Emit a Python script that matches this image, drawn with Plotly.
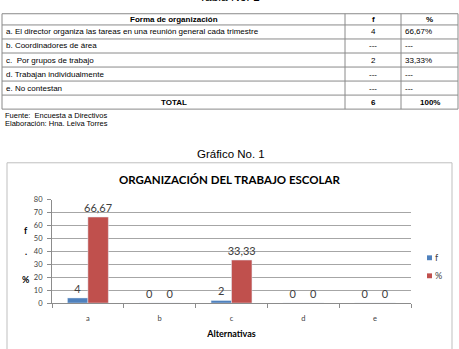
import plotly.graph_objects as go

W, H = 459, 349

# ---- data ----
table_header = ["Forma de organización", "f", "%"]
table_col_forma = [
    "a. El director organiza las tareas en una reunión general cada trimestre",
    "b. Coordinadores de área",
    "c.  Por grupos de trabajo",
    "d. Trabajan individualmente",
    "e. No contestan",
]
table_col_f = ["4", "---", "2", "---", "---"]
table_col_pct = ["66,67%", "---", "33,33%", "---", "---"]
table_total = ["TOTAL", "6", "100%"]

categories = ["a", "b", "c", "d", "e"]
f_values = [4, 0, 2, 0, 0]
pct_values = [66.67, 0, 33.33, 0, 0]
y_ticks = [0, 10, 20, 30, 40, 50, 60, 70, 80]
series_names = ["f", "%"]
series_colors = ["#4F81BD", "#C0504D"]


def px(x):
    return x / W


def py(y):
    return 1 - y / H


def fmt(v):
    return ("%g" % v).replace(".", ",")


fig = go.Figure()

# ---- bars ----
LFONT = dict(family="Lato, Carlito, sans-serif", size=11, color="#404040")
for name, color, vals in zip(series_names, series_colors, [f_values, pct_values]):
    fig.add_trace(go.Bar(
        name=name, x=categories, y=vals, marker=dict(color=color),
        text=[fmt(v) for v in vals], textposition="outside", textfont=LFONT,
        constraintext="none", cliponaxis=False, showlegend=False,
    ))

TICKF = dict(family="Lato, sans-serif", size=7.5, color="#404040")
fig.update_layout(
    width=W, height=H,
    margin=dict(l=0, r=0, t=0, b=0),
    paper_bgcolor="white", plot_bgcolor="white",
    barmode="group", bargap=0.43, bargroupgap=0,
    showlegend=False,
    xaxis=dict(
        domain=[px(52), px(411)], anchor="y",
        showline=True, linecolor="#8c8c8c", linewidth=1,
        ticks="outside", tickson="boundaries", ticklen=4, tickcolor="#8c8c8c",
        tickfont=TICKF, ticklabelstandoff=8,
        showgrid=False,
        title=dict(text="<b>Alternativas</b>", standoff=8,
                   font=dict(family="Lato, sans-serif", size=9, color="#000")),
    ),
    yaxis=dict(
        domain=[py(307), py(201)], range=[0, 80], tickvals=y_ticks,
        showline=True, linecolor="#8c8c8c", linewidth=1,
        ticks="outside", ticklen=4, tickcolor="#8c8c8c",
        tickfont=TICKF, ticklabelstandoff=3,
        showgrid=True, gridcolor="#a6a6a6", gridwidth=1, zeroline=False,
    ),
)

shapes = []
annotations = []

# ---- table (grid + text built from the lists) ----
T_LEFT, T_RIGHT = 2, 458
COL_X = [2, 345, 401, 458]
T_TOP, HDR_H, ROW_H = 10, 11.5, 14.4
n_body = len(table_col_forma)
row_edges = [T_TOP, T_TOP + HDR_H] + [T_TOP + HDR_H + ROW_H * (i + 1) for i in range(n_body + 1)]
LC = "#8a8a8a"
for yv in row_edges:
    shapes.append(dict(type="line", xref="paper", yref="paper",
                       x0=px(T_LEFT), x1=px(T_RIGHT), y0=py(yv), y1=py(yv),
                       line=dict(color=LC, width=1)))
for xv in COL_X:
    shapes.append(dict(type="line", xref="paper", yref="paper",
                       x0=px(xv), x1=px(xv), y0=py(row_edges[0]), y1=py(row_edges[-1]),
                       line=dict(color=LC, width=1)))

TF = dict(family="Liberation Sans, Arial", size=8, color="#000")


def cell(text, x, y, anchor):
    annotations.append(dict(text=text, x=px(x), y=py(y), xref="paper", yref="paper",
                            xanchor=anchor, yanchor="middle", showarrow=False, font=TF))


hy = (row_edges[0] + row_edges[1]) / 2
cell("<b>" + table_header[0] + "</b>", (COL_X[0] + COL_X[1]) / 2, hy, "center")
cell("<b>" + table_header[1] + "</b>", (COL_X[1] + COL_X[2]) / 2, hy, "center")
cell("<b>" + table_header[2] + "</b>", (COL_X[2] + COL_X[3]) / 2, hy, "center")
for i in range(n_body):
    ry = (row_edges[i + 1] + row_edges[i + 2]) / 2
    cell(table_col_forma[i], COL_X[0] + 2, ry, "left")
    cell(table_col_f[i], (COL_X[1] + COL_X[2]) / 2, ry, "center")
    cell(table_col_pct[i], COL_X[2] + 2, ry, "left")
ty = (row_edges[-2] + row_edges[-1]) / 2
for j, v in enumerate(table_total):
    cell("<b>" + v + "</b>", (COL_X[j] + COL_X[j + 1]) / 2, ty, "center")

# ---- chart box ----
shapes.append(dict(type="rect", xref="paper", yref="paper",
                   x0=px(7), x1=px(452), y0=py(360), y1=py(163),
                   line=dict(color="#bfbfbf", width=1), layer="below"))

# ---- manual legend ----
for k, (name, color) in enumerate(zip(series_names, series_colors)):
    cy = 260.5 + k * 18.5
    shapes.append(dict(type="rect", xref="paper", yref="paper",
                       x0=px(427), x1=px(432), y0=py(cy + 2.5), y1=py(cy - 2.5),
                       fillcolor=color, line=dict(width=0)))
    annotations.append(dict(text=name, x=px(433), y=py(cy), xref="paper", yref="paper",
                            xanchor="left", yanchor="middle", showarrow=False,
                            font=dict(family="Lato, sans-serif", size=9, color="#404040")))

annotations += [
    dict(text="Tabla No. 1", x=px(230), y=py(2.5), xref="paper", yref="paper",
         xanchor="center", yanchor="bottom", showarrow=False,
         font=dict(family="Liberation Sans, Arial", size=12, color="#000")),
    dict(text="Fuente:  Encuesta a Directivos", x=px(3), y=py(114.5), xref="paper",
         yref="paper", xanchor="left", yanchor="middle", showarrow=False,
         font=dict(family="Liberation Sans, Arial", size=7.5, color="#000")),
    dict(text="Elaboración: Hna. Leiva Torres", x=px(3), y=py(123), xref="paper",
         yref="paper", xanchor="left", yanchor="middle", showarrow=False,
         font=dict(family="Liberation Sans, Arial", size=7.5, color="#000")),
    dict(text="Gráfico No. 1", x=px(231), y=py(153.5), xref="paper", yref="paper",
         xanchor="center", yanchor="middle", showarrow=False,
         font=dict(family="Liberation Sans, Arial", size=11.5, color="#000")),
    dict(text="<b>ORGANIZACIÓN DEL TRABAJO ESCOLAR</b>", x=px(230), y=py(180.5),
         xref="paper", yref="paper", xanchor="center", yanchor="middle",
         showarrow=False,
         font=dict(family="Lato, Carlito, sans-serif", size=11.5, color="#000")),
    dict(text="<b>f</b>", x=px(26), y=py(232), xref="paper", yref="paper",
         xanchor="center", yanchor="middle", showarrow=False,
         font=dict(family="Lato, sans-serif", size=9, color="#000")),
    dict(text="<b>.</b>", x=px(26), y=py(254), xref="paper", yref="paper",
         xanchor="center", yanchor="middle", showarrow=False,
         font=dict(family="Lato, sans-serif", size=9, color="#000")),
    dict(text="<b>%</b>", x=px(26), y=py(283), xref="paper", yref="paper",
         xanchor="center", yanchor="middle", showarrow=False,
         font=dict(family="Lato, sans-serif", size=9, color="#000")),
]

fig.update_layout(shapes=shapes, annotations=annotations)

fig.write_html("out.html")
